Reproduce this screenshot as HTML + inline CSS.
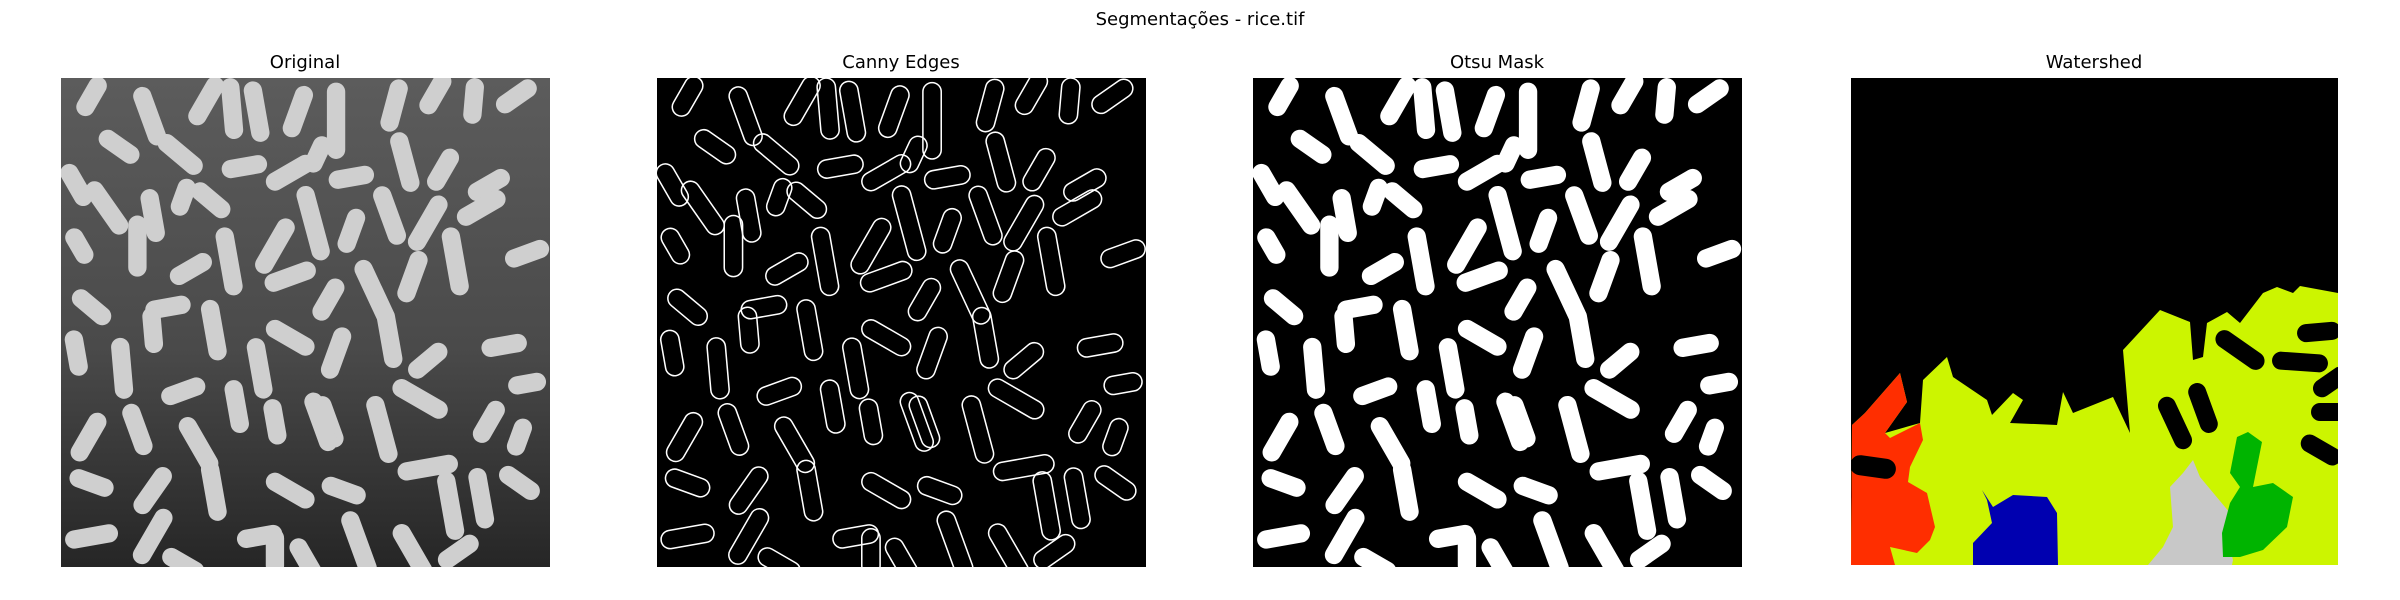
<!DOCTYPE html>
<html><head><meta charset="utf-8"><style>
html,body{margin:0;padding:0;background:#fff;}
body{width:2400px;height:600px;position:relative;overflow:hidden;font-family:"DejaVu Sans","Liberation Sans",sans-serif;}
.t{position:absolute;font-size:18px;color:#000;transform:translateX(-50%);white-space:nowrap;}
svg.p{position:absolute;top:78px;}
</style></head><body>
<div class="t" style="left:1200px;top:9px;">Segmentações - rice.tif</div>
<div class="t" style="left:305px;top:52px;">Original</div>
<div class="t" style="left:901px;top:52px;">Canny Edges</div>
<div class="t" style="left:1497px;top:52px;">Otsu Mask</div>
<div class="t" style="left:2094px;top:52px;">Watershed</div>

<svg class="p" id="orig" style="left:61px" width="489" height="489" viewBox="0 0 320 320">
<defs><linearGradient id="bg" x1="0" y1="0" x2="0" y2="1"><stop offset="0" stop-color="#5c5c5c"/><stop offset="0.55" stop-color="#4a4a4a"/><stop offset="1" stop-color="#262626"/></linearGradient></defs>
<rect width="320" height="320" fill="url(#bg)"/></svg>
<svg class="p" id="canny" style="left:657px" width="489" height="489" viewBox="0 0 320 320"><rect width="320" height="320" fill="#000"/></svg>
<svg class="p" id="otsu" style="left:1253px" width="489" height="489" viewBox="0 0 320 320"><rect width="320" height="320" fill="#000"/></svg>

<svg class="p" id="ws" style="left:1851px" width="487" height="487" viewBox="0 0 487 487">
<rect width="487" height="487" fill="#000"/>
<polygon fill="#ccf500" points="1,347 14,335 49,295 56,324 34,355 69,345 72,302 96,279 102,299 136,322 141,337 162,315 172,322 159,345 206,347 212,314 222,335 262,319 279,355 272,272 309,232 339,244 342,282 352,279 356,245 376,234 389,245 412,215 426,209 442,215 449,208 487,215 487,487 0,487"/>
<polygon fill="#ff2e00" points="1,347 14,335 49,295 56,324 34,355 39,360 69,345 72,362 59,389 57,404 76,415 84,449 79,462 66,475 39,469 44,487 0,487"/>
<polygon fill="#0000b0" points="122,487 122,465 141,445 136,422 131,412 142,429 162,417 196,419 206,435 207,487"/>
<polygon fill="#c8c8c8" points="297,487 312,469 322,449 319,409 332,395 342,382 349,399 379,435 376,459 382,482 381,487"/>
<polygon fill="#00b400" points="372,479 371,455 379,425 389,409 379,395 386,359 397,354 411,364 402,409 422,405 442,419 436,449 412,472 389,479"/>
<g fill="#000">
<rect x="-23" y="-10" width="46" height="20" rx="10" transform="translate(22,389) rotate(8)"/>
<rect x="-28" y="-9" width="56" height="18" rx="9" transform="translate(324,345) rotate(65)"/>
<rect x="-26" y="-9" width="52" height="18" rx="9" transform="translate(352,330) rotate(70)"/>
<rect x="-28" y="-9" width="56" height="18" rx="9" transform="translate(389,272) rotate(35)"/>
<rect x="-28" y="-9" width="56" height="18" rx="9" transform="translate(449,284) rotate(4)"/>
<rect x="-22" y="-9" width="44" height="18" rx="9" transform="translate(468,254) rotate(-5)"/>
<rect x="-20" y="-9" width="40" height="18" rx="9" transform="translate(480,304) rotate(-35)"/>
<rect x="-20" y="-9" width="40" height="18" rx="9" transform="translate(480,334) rotate(0)"/>
<rect x="-22" y="-9" width="44" height="18" rx="9" transform="translate(470,372) rotate(30)"/>
</g></svg>

<script>
// grain data: centre x, centre y (0-320 image units), angle (deg), length
const grainX=[20,58,95,112,128,155,180,218,245,270,298,38,78,120,150,168,190,225,250,280,10,30,60,80,98,140,165,190,215,240,275,12,50,85,110,150,175,205,230,258,305,20,70,100,130,150,180,215,240,290,10,40,60,80,115,175,235,280,305,18,50,90,140,170,210,240,300,20,60,100,150,185,255,275,300,20,60,130,195,230,260,140,80,160];
const grainY=[12,25,15,20,22,22,28,18,10,15,12,45,50,58,62,50,65,55,60,70,70,85,90,78,80,110,95,100,90,95,85,110,110,125,120,130,145,140,130,120,115,150,150,165,190,170,180,170,185,175,180,190,165,205,215,225,210,225,200,235,230,240,225,225,230,255,235,265,270,270,270,270,280,275,265,300,300,300,305,310,310,310,318,315];
const grainA=[-60,70,-60,85,80,-70,90,-75,-60,-85,-35,35,40,-10,-30,-65,-10,75,-60,-30,60,55,80,-70,40,-60,75,-70,70,-60,-30,60,90,-30,80,-20,-60,65,-70,80,-20,40,-10,80,80,30,-70,80,-40,-10,80,85,85,-20,80,70,30,-60,-10,-60,70,60,80,70,75,-10,-70,20,-55,80,30,20,80,80,35,-10,-60,-10,70,60,-35,90,30,60];
const grainL=[28,40,35,40,40,35,50,35,30,30,30,30,35,30,35,25,30,40,30,30,30,40,35,25,30,40,50,30,40,40,35,25,40,30,45,35,30,45,35,45,30,30,30,40,40,35,35,40,30,30,30,40,30,30,35,35,40,30,25,35,35,40,30,40,45,40,25,30,35,40,35,30,45,40,30,35,40,30,45,40,30,30,30,30];
const NS='http://www.w3.org/2000/svg';
function addGrains(svgId,style){
  const svg=document.getElementById(svgId);
  const g=document.createElementNS(NS,'g');
  
  
  for(let i=0;i<grainX.length;i++){
    const r=document.createElementNS(NS,'rect');
    const L=grainL[i],W=12;
    r.setAttribute('x',-L/2);r.setAttribute('y',-W/2);
    r.setAttribute('width',L);r.setAttribute('height',W);r.setAttribute('rx',W/2);
    r.setAttribute('transform','translate('+grainX[i]+','+grainY[i]+') rotate('+grainA[i]+')');
    for(const k in style) r.setAttribute(k,style[k]);
    
    
    g.appendChild(r);
  }
  svg.appendChild(g);
}
addGrains('orig',{fill:'#cfcfcf'});
addGrains('canny',{fill:'none',stroke:'#fff','stroke-width':'1'});
addGrains('otsu',{fill:'#fff'});
</script>
</body></html>
